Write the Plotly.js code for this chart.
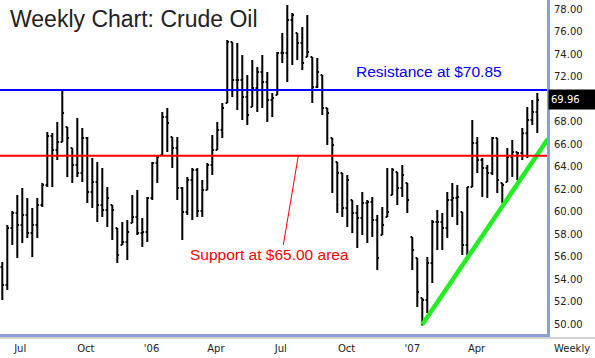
<!DOCTYPE html>
<html>
<head>
<meta charset="utf-8">
<script src="https://cdn.plot.ly/plotly-3.0.1.min.js"></script>
<style>html,body{margin:0;padding:0;background:#fff;}#chart{width:595px;height:358px;}</style>
</head>
<body>
<div id="chart"></div>
<script>
// Weekly bars (week starting)
const weeks = [
 '2005-06-06','2005-06-13','2005-06-20','2005-06-27','2005-07-04','2005-07-11','2005-07-18','2005-07-25',
 '2005-08-01','2005-08-08','2005-08-15','2005-08-22','2005-08-29','2005-09-05','2005-09-12','2005-09-19',
 '2005-09-26','2005-10-03','2005-10-10','2005-10-17','2005-10-24','2005-10-31','2005-11-07','2005-11-14',
 '2005-11-21','2005-11-28','2005-12-05','2005-12-12','2005-12-19','2005-12-26',
 '2006-01-02','2006-01-09','2006-01-16','2006-01-23','2006-01-30','2006-02-06','2006-02-13','2006-02-20',
 '2006-02-27','2006-03-06','2006-03-13','2006-03-20','2006-03-27','2006-04-03','2006-04-10','2006-04-17',
 '2006-04-24','2006-05-01','2006-05-08','2006-05-15','2006-05-22','2006-05-29','2006-06-05','2006-06-12',
 '2006-06-19','2006-06-26','2006-07-03','2006-07-10','2006-07-17','2006-07-24','2006-07-31','2006-08-07',
 '2006-08-14','2006-08-21','2006-08-28','2006-09-04','2006-09-11','2006-09-18','2006-09-25','2006-10-02',
 '2006-10-09','2006-10-16','2006-10-23','2006-10-30','2006-11-06','2006-11-13','2006-11-20','2006-11-27',
 '2006-12-04','2006-12-11','2006-12-18','2006-12-25',
 '2007-01-01','2007-01-08','2007-01-15','2007-01-22','2007-01-29','2007-02-05','2007-02-12','2007-02-19',
 '2007-02-26','2007-03-05','2007-03-12','2007-03-19','2007-03-26','2007-04-02','2007-04-09','2007-04-16',
 '2007-04-23','2007-04-30','2007-05-07','2007-05-14','2007-05-21','2007-05-28','2007-06-04','2007-06-11',
 '2007-06-18','2007-06-25'
];
const opens = [
 55.11,53.51,58.57,59.91,58.84,59.73,58.13,58.84,60.62,62.40,66.75,65.51,66.22,67.55,65.68,64.17,
 63.46,66.57,61.77,62.66,60.62,60.17,60.62,58.57,57.06,57.33,59.02,59.55,58.13,58.22,
 61.24,64.35,65.06,68.44,66.66,65.68,62.13,60.00,62.84,63.73,60.08,61.95,64.17,65.51,67.28,69.68,
 75.11,71.73,71.73,70.22,69.33,71.02,72.44,71.55,69.95,70.40,74.13,74.13,77.06,75.91,75.02,73.77,
 73.77,71.11,72.17,69.24,66.57,64.44,63.46,60.35,61.06,59.91,59.46,60.80,60.88,59.28,57.95,59.55,
 61.51,63.55,62.13,62.57,
 57.77,55.91,52.35,52.17,55.46,59.11,59.11,58.57,61.06,61.24,60.00,57.06,62.22,66.13,64.62,63.91,
 63.46,66.57,62.57,62.66,64.88,65.33,65.24,67.00,68.17,68.88
];
const highs = [
 55.55,58.84,60.08,61.51,62.13,61.24,60.35,61.24,62.57,67.11,67.02,68.00,70.85,67.55,65.68,68.35,
 67.46,66.66,64.80,64.44,63.91,62.22,60.62,58.57,59.11,59.28,61.51,61.95,59.46,61.33,
 64.44,65.06,68.88,69.24,66.66,66.66,62.22,63.11,63.91,63.91,62.84,64.35,66.84,68.00,69.68,75.28,
 75.11,75.02,73.95,72.17,73.51,72.88,73.95,72.44,70.57,74.22,75.91,78.40,77.68,75.91,76.44,77.51,
 73.77,73.68,72.17,69.24,66.57,64.44,63.46,63.28,61.06,60.62,61.77,61.06,61.33,59.73,60.44,63.91,
 63.91,63.55,64.17,62.57,
 57.77,55.91,52.35,56.00,59.28,60.17,59.91,61.77,62.57,62.40,60.00,62.22,68.17,66.66,64.80,64.17,
 66.66,66.57,62.57,65.68,66.40,65.33,67.46,69.33,69.95,70.57
];
const lows = [
 52.17,53.06,57.06,55.91,57.24,57.68,56.00,57.68,60.44,62.22,62.22,64.62,66.22,63.11,62.57,63.11,
 62.66,60.80,60.35,59.11,59.55,58.66,57.51,55.46,57.06,55.73,59.02,57.95,56.88,57.33,
 61.06,62.57,65.06,65.33,63.91,61.06,57.51,59.73,59.28,59.55,59.55,61.95,63.28,65.51,66.57,69.68,
 70.22,69.06,68.17,67.73,69.33,68.88,69.24,68.00,68.44,70.40,73.24,71.55,73.06,73.51,72.62,73.77,
 69.68,71.02,68.62,65.95,61.68,59.91,59.55,58.66,58.13,56.80,57.95,57.24,57.77,54.84,57.95,59.55,
 61.51,60.62,61.33,59.91,
 54.84,51.55,49.90,51.02,53.68,56.62,56.62,57.68,59.55,58.84,56.17,56.17,62.22,63.46,61.33,61.24,
 63.28,61.68,60.80,62.66,63.11,62.84,64.62,64.80,67.73,67.02
];
const closes = [
 53.51,58.57,59.91,58.84,59.73,58.13,58.84,60.62,62.40,66.75,65.51,66.22,68.80,66.57,64.17,63.46,
 66.57,61.77,62.66,60.62,60.17,61.24,60.17,56.17,57.33,58.22,59.55,58.13,58.22,61.24,
 64.35,64.88,68.44,67.91,65.68,62.13,60.00,62.84,63.73,60.08,61.95,64.17,65.51,67.28,69.24,75.11,
 71.73,71.73,70.22,68.62,71.02,72.44,71.55,69.95,70.13,74.13,74.13,77.06,77.51,75.02,73.24,74.22,
 71.11,72.44,69.24,68.80,65.95,63.46,60.35,62.84,59.91,59.46,60.80,60.88,59.28,55.91,58.84,60.00,
 63.73,62.13,63.28,61.06,
 56.62,52.88,52.17,55.46,59.11,59.11,58.57,61.06,61.24,61.33,57.06,62.22,66.13,64.62,63.91,63.46,
 66.57,62.84,62.40,64.88,65.33,65.24,67.00,68.17,68.88,69.96
];

const resistanceLevel = 70.85;
const supportLevel = 65.00;
const trendDates = ['2007-01-15', '2007-07-10'];
const trendValues = [50.0, 66.5];

const xTickVals = ['2005-07-01','2005-10-01','2006-01-01','2006-04-01','2006-07-01','2006-10-01','2007-01-01','2007-04-01'];
const xTickText = ['Jul','Oct',"'06",'Apr','Jul','Oct',"'07",'Apr'];
const yTickVals = [50,52,54,56,58,60,62,64,66,68,72,74,76,78];
const yTickText = ['50.00','52.00','54.00','56.00','58.00','60.00','62.00','64.00','66.00','68.00','72.00','74.00','76.00','78.00'];

const axisFont = {family: 'DejaVu Sans, sans-serif', size: 10, color: '#222'};
const axisLine = '#8d9fd6';

const traces = [
  {
    type: 'ohlc', x: weeks, open: opens, high: highs, low: lows, close: closes,
    increasing: {line: {color: '#000', width: 2}},
    decreasing: {line: {color: '#000', width: 2}},
    tickwidth: 0.35, hoverinfo: 'skip', showlegend: false
  },
  {
    type: 'scatter', mode: 'lines', x: trendDates, y: trendValues,
    line: {color: '#22ee22', width: 4.5}, hoverinfo: 'skip', showlegend: false
  }
];

const layout = {
  width: 595, height: 358,
  margin: {l: 0, r: 48, t: 0, b: 24},
  paper_bgcolor: '#fff', plot_bgcolor: '#fff',
  showlegend: false,
  title: {
    text: 'Weekly Chart: Crude Oil',
    font: {family: 'Liberation Sans, Arial, sans-serif', size: 23, color: '#222'},
    xref: 'container', yref: 'container',
    x: 10/595, xanchor: 'left', y: 1 - 19/358, yanchor: 'middle'
  },
  xaxis: {
    type: 'date', range: ['2005-06-02 18:43', '2007-07-08 14:24'],
    tickmode: 'array', tickvals: xTickVals, ticktext: xTickText,
    showgrid: false, zeroline: false,
    showline: true, linecolor: axisLine, linewidth: 3,
    ticks: 'outside', ticklen: 3, tickcolor: 'rgba(0,0,0,0)',
    tickfont: axisFont, rangeslider: {visible: false}, fixedrange: true
  },
  yaxis: {
    side: 'right', range: [49.15, 78.84],
    tickmode: 'array', tickvals: yTickVals, ticktext: yTickText,
    showgrid: false, zeroline: false,
    showline: true, linecolor: axisLine, linewidth: 3,
    ticks: 'outside', ticklen: 2, tickcolor: 'rgba(0,0,0,0)',
    tickfont: axisFont, fixedrange: true
  },
  shapes: [
    {type: 'line', xref: 'paper', yref: 'y', x0: 0, x1: 1, y0: resistanceLevel, y1: resistanceLevel,
     line: {color: '#0000ff', width: 2}},
    {type: 'line', xref: 'paper', yref: 'y', x0: 0, x1: 1, y0: supportLevel, y1: supportLevel,
     line: {color: '#ff0000', width: 2}},
    {type: 'line', xref: 'paper', yref: 'y', x0: 283.3/547, x1: 298.3/547, y0: 57.06, y1: supportLevel,
     line: {color: '#ff0000', width: 1}},
    {type: 'line', xref: 'paper', yref: 'paper', x0: 0, x1: 595/547, y0: -4/334, y1: -4/334,
     line: {color: '#a8a8a8', width: 1}}
  ],
  annotations: [
    {text: 'Resistance at $70.85', showarrow: false, xref: 'paper', yref: 'y',
     x: 354/547, xanchor: 'left', y: resistanceLevel, yanchor: 'middle', yshift: 18,
     font: {family: 'Liberation Sans, Arial, sans-serif', size: 15.5, color: '#0000ff'}},
    {text: 'Support at $65.00 area', showarrow: false, xref: 'paper', yref: 'y',
     x: 188/547, xanchor: 'left', y: supportLevel, yanchor: 'middle', yshift: -99,
     font: {family: 'Liberation Sans, Arial, sans-serif', size: 15.5, color: '#ff0000'}},
    {text: closes[closes.length - 1].toFixed(2), showarrow: false, xref: 'paper', yref: 'y',
     x: 1, xshift: 1, xanchor: 'left', y: closes[closes.length - 1], yanchor: 'middle',
     bgcolor: '#000', width: 42, height: 15, borderpad: 2, align: 'left',
     font: {family: 'DejaVu Sans, sans-serif', size: 10, color: '#fff'}},
    {text: 'Weekly', showarrow: false, xref: 'paper', yref: 'paper',
     x: 572/547, xanchor: 'center', y: -14/334, yanchor: 'middle',
     font: axisFont}
  ]
};

Plotly.newPlot('chart', traces, layout, {staticPlot: true, displayModeBar: false});
</script>
</body>
</html>
